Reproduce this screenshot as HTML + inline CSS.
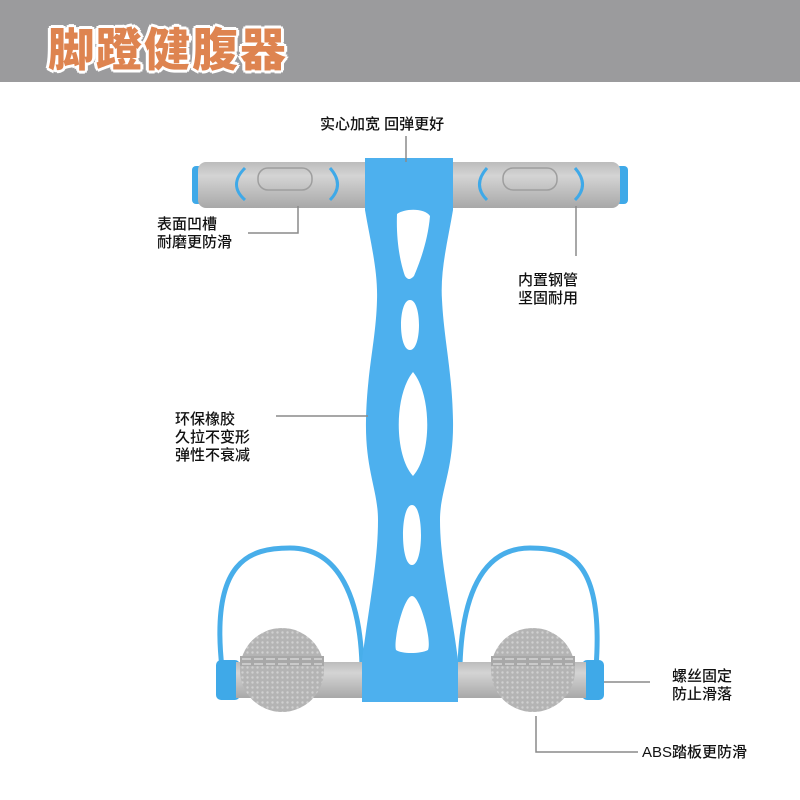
<!DOCTYPE html>
<html><head><meta charset="utf-8"><style>
html,body{margin:0;padding:0;background:#fff;}
body{width:800px;height:800px;position:relative;overflow:hidden;font-family:"Liberation Sans","Noto Sans CJK SC",sans-serif;}
.hdr{position:absolute;left:0;top:0;width:800px;height:82px;background:#9b9b9d;}
.title{position:absolute;left:48px;top:14px;font-size:46px;font-weight:900;color:#de8450;letter-spacing:2px;text-shadow:2px 0 #fff,-2px 0 #fff,0 2px #fff,0 -2px #fff,2px 2px #fff,-2px -2px #fff,2px -2px #fff,-2px 2px #fff,3px 0 #fff,-3px 0 #fff,0 3px #fff,0 -3px #fff;font-family:"Noto Sans CJK SC",sans-serif;}
.t{position:absolute;font-size:15px;line-height:18px;color:#111;font-weight:500;font-family:"Liberation Sans","Noto Sans CJK SC",sans-serif;}
</style></head><body>
<div class="hdr"></div>
<div class="title">脚蹬健腹器</div>
<svg width="800" height="800" style="position:absolute;left:0;top:0">
<defs>
<linearGradient id="g" x1="0" y1="0" x2="0" y2="1"><stop offset="0" stop-color="#bcbcbc"/><stop offset=".3" stop-color="#d4d4d4"/><stop offset="1" stop-color="#a8a8a8"/></linearGradient>
<pattern id="dots" width="5" height="5" patternUnits="userSpaceOnUse"><rect width="5" height="5" fill="#b4b4b4"/><circle cx="2.5" cy="2.5" r="1.2" fill="#d0d0d0"/></pattern>
</defs>
<rect x="192" y="166" width="10" height="38" rx="4" fill="#3fa9e8"/>
<rect x="616" y="166" width="12" height="38" rx="4" fill="#3fa9e8"/>
<rect x="198" y="162" width="422" height="46" rx="8" fill="url(#g)"/>
<rect x="258" y="168" width="54" height="22" rx="10" fill="none" stroke="#9e9e9e" stroke-width="1.5"/>
<rect x="503" y="168" width="54" height="22" rx="10" fill="none" stroke="#9e9e9e" stroke-width="1.5"/>
<path d="M245,168 Q228,185 245,200" fill="none" stroke="#3fa9e8" stroke-width="3"/>
<path d="M330,168 Q345,185 330,200" fill="none" stroke="#3fa9e8" stroke-width="3"/>
<path d="M487,168 Q472,185 487,200" fill="none" stroke="#3fa9e8" stroke-width="3"/>
<path d="M575,168 Q590,185 575,200" fill="none" stroke="#3fa9e8" stroke-width="3"/>
<path d="M222,668 C210,560 250,548 290,548 C340,548 360,600 362,665" fill="none" stroke="#48aeea" stroke-width="5"/>
<path d="M460,665 C462,600 480,548 530,548 C570,548 604,560 596,668" fill="none" stroke="#48aeea" stroke-width="5"/>
<rect x="216" y="660" width="24" height="40" rx="5" fill="#3fa9e8"/>
<rect x="582" y="660" width="22" height="40" rx="5" fill="#3fa9e8"/>
<rect x="236" y="662" width="350" height="36" fill="url(#g)"/>
<path fill-rule="evenodd" fill="#4db0ee" d="M365,158 L453,158 L453,210 C448,240 440,270 442,300 C444,340 452,370 453,420 C454,470 440,490 440,520 C440,560 450,600 458,660 L458,702 L362,702 L362,660 C370,600 378,560 378,520 C378,490 365,470 366,420 C367,370 376,340 377,300 C378,270 370,240 365,210 Z
M397,214 C405,208 425,208 430,216 C428,240 420,262 414,276 C410,280 408,280 405,276 C400,262 396,240 397,214 Z
M410,300 C422,300 422,350 410,350 C398,350 398,300 410,300 Z
M413,372 C432,395 432,455 413,476 C394,455 394,395 413,372 Z
M412,505 C424,505 424,565 412,565 C400,565 400,505 412,505 Z
M412,596 C420,596 432,640 428,650 C420,654 402,654 396,650 C393,640 404,596 412,596 Z"/>
<circle cx="282" cy="670" r="42" fill="url(#dots)"/>
<rect x="240" y="656" width="84" height="10" fill="#a8a8a8"/>
<line x1="242" y1="659" x2="322" y2="659" stroke="#d6d6d6" stroke-width="1.5" stroke-dasharray="9,3"/>
<line x1="242" y1="664" x2="322" y2="664" stroke="#d6d6d6" stroke-width="1.5" stroke-dasharray="9,3"/>
<circle cx="533" cy="670" r="42" fill="url(#dots)"/>
<rect x="491" y="656" width="84" height="10" fill="#a8a8a8"/>
<line x1="493" y1="659" x2="573" y2="659" stroke="#d6d6d6" stroke-width="1.5" stroke-dasharray="9,3"/>
<line x1="493" y1="664" x2="573" y2="664" stroke="#d6d6d6" stroke-width="1.5" stroke-dasharray="9,3"/>
<g stroke="#8a8a8a" stroke-width="1.5" fill="none">
<path d="M406,136 V162"/>
<path d="M248,233 H298 V206"/>
<path d="M576,206 V256"/>
<path d="M276,416 H368"/>
<path d="M604,682 H650"/>
<path d="M536,716 V752 H638"/>
</g>
</svg>
<div class="t" style="left:320px;top:116px">实心加宽 回弹更好</div>
<div class="t" style="left:157px;top:216px">表面凹槽<br>耐磨更防滑</div>
<div class="t" style="left:518px;top:272px">内置钢管<br>坚固耐用</div>
<div class="t" style="left:175px;top:411px">环保橡胶<br>久拉不变形<br>弹性不衰减</div>
<div class="t" style="left:672px;top:668px">螺丝固定<br>防止滑落</div>
<div class="t" style="left:642px;top:744px">ABS踏板更防滑</div>
</body></html>
